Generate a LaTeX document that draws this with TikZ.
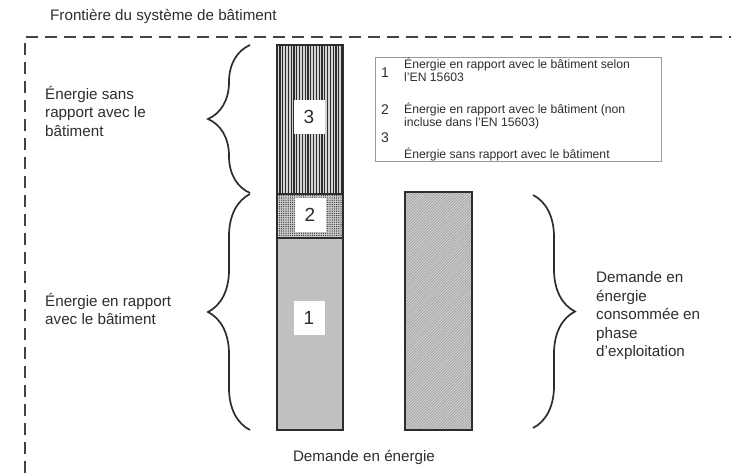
\documentclass[tikz,border=0pt]{standalone}
\usepackage{fontspec}
\setmainfont{Liberation Sans}
\usetikzlibrary{patterns.meta,decorations.pathreplacing}

\definecolor{inkgray}{RGB}{45,45,45}
\definecolor{bargray}{RGB}{192,192,192}

\tikzset{
  lbl/.style={anchor=west, align=left, inner sep=0pt, text=inkgray,
    font=\fontsize{15.2}{18.5}\selectfont},
  legtxt/.style={anchor=west, align=left, inner sep=0pt, text=inkgray,
    font=\fontsize{12.2}{13}\selectfont},
  legnum/.style={inner sep=0pt, text=inkgray, font=\fontsize{14}{14}\selectfont},
  numbox/.style={fill=white, inner sep=0pt, minimum width=31pt, minimum height=34pt,
    text=inkgray, font=\fontsize{19}{19}\selectfont},
  curly/.style={decorate, decoration={brace, amplitude=42pt}, line width=1.7pt, inkgray},
  barline/.style={line width=1.8pt, inkgray}
}

\begin{document}
\begin{tikzpicture}[x=1pt, y=-1pt]
  \useasboundingbox (0,0) rectangle (731,473);

  % system boundary
  \node[lbl] (title) at (50,16) {Frontière du système de bâtiment};
  \draw[inkgray!90, line width=1.8pt, dash pattern=on 12pt off 7pt]
    (25,473) -- (25,37) -- (731,37);

  % stacked bar: 3 on top of 2 on top of 1
  \fill[bargray!70] (277,45) rectangle (343,194);
  \fill[pattern={Lines[angle=90, distance=2.8pt, line width=1.3pt]}, pattern color=inkgray]
    (277,45) rectangle (343,194);
  \fill[bargray!80] (277,194) rectangle (343,238);
  \fill[pattern={Dots[distance=2.2pt, radius=0.65pt]}, pattern color=inkgray]
    (277,194) rectangle (343,238);
  \fill[bargray] (277,238) rectangle (343,430);
  \draw[barline] (277,45) rectangle (343,430);
  \draw[barline] (277,194) -- (343,194);
  \draw[barline] (277,238) -- (343,238);

  \node[numbox] (n3) at (309,117) {3};
  \node[numbox] (n2) at (310,215) {2};
  \node[numbox] (n1) at (309,318) {1};

  % consumed demand bar
  \fill[bargray!75] (405,192) rectangle (472,430);
  \fill[pattern={Lines[angle=45, distance=2pt, line width=0.7pt]}, pattern color=gray!75]
    (405,192) rectangle (472,430);
  \draw[barline] (405,192) rectangle (472,430);

  % braces
  \draw[curly] (250,193) -- (250,45);
  \draw[curly] (250,430) -- (250,194);
  \draw[curly] (533,195) -- (533,428);

  \node[lbl] (nonbat) at (45,111) {Énergie sans\\rapport avec le\\bâtiment};
  \node[lbl] (bat) at (45,309) {Énergie en rapport\\avec le bâtiment};
  \node[lbl] (conso) at (596,316) {Demande en\\énergie\\consommée en\\phase\\d’exploitation};
  \node[lbl, anchor=center] (demande) at (364,457) {Demande en énergie};

  % legend
  \draw[gray!80, line width=0.8pt] (375,57) rectangle (661,161);
  \node[legnum] (k1) at (385,73) {1};
  \node[legtxt] (t1) at (404,69.5) {Énergie en rapport avec le bâtiment selon\\l’EN 15603};
  \node[legnum] (k2) at (385,110) {2};
  \node[legtxt] (t2) at (404,116) {Énergie en rapport avec le bâtiment (non\\incluse dans l’EN 15603)};
  \node[legnum] (k3) at (385,138) {3};
  \node[legtxt] (t3) at (404,154) {Énergie sans rapport avec le bâtiment};
\end{tikzpicture}
\end{document}
